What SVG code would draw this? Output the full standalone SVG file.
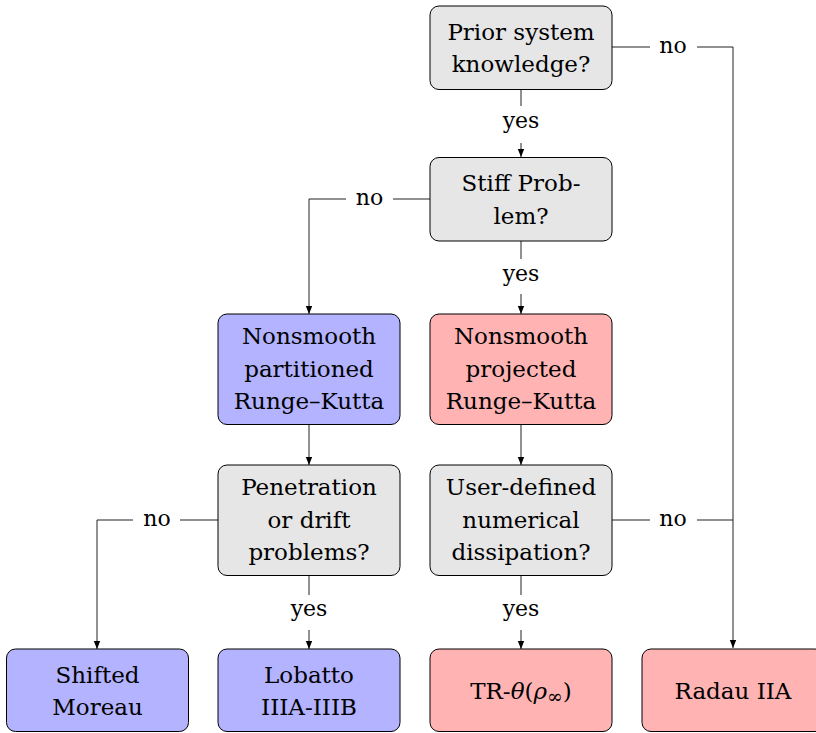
<svg xmlns="http://www.w3.org/2000/svg" width="816" height="733" viewBox="0 0 816 733">
<style>
text{font-family:"DejaVu Serif","Liberation Serif",serif;fill:#000;text-anchor:middle}
.n{font-size:23px}
.l{font-size:22px}
.box{stroke:#000;stroke-width:1}
.g{fill:#e6e6e6}.b{fill:#b3b3ff}.r{fill:#ffb3b3}
.c{fill:none;stroke:#222;stroke-width:1}
</style>
<defs>
<marker id="ah" viewBox="0 0 10 10" refX="10" refY="5" markerWidth="8" markerHeight="8" markerUnits="userSpaceOnUse" orient="auto">
<path d="M0,1 L10,5 L0,9 Z" fill="#000"/>
</marker>
</defs>
<rect width="816" height="733" fill="#fff"/>
<g id="connectors">
<path class="c" d="M521,90 V106"/><path class="c" d="M521,143 V157" marker-end="url(#ah)"/>
<text class="l" x="521" y="128">yes</text>
<path class="c" d="M612,47 H650"/><path class="c" d="M697,47 H733 V648" marker-end="url(#ah)"/>
<text class="l" x="673" y="53">no</text>
<path class="c" d="M430,199 H393"/><path class="c" d="M346,199 H309 V314" marker-end="url(#ah)"/>
<text class="l" x="369.5" y="205">no</text>
<path class="c" d="M521,241 V259"/><path class="c" d="M521,294 V314" marker-end="url(#ah)"/>
<text class="l" x="521" y="281">yes</text>
<path class="c" d="M309,425 V465" marker-end="url(#ah)"/>
<path class="c" d="M521,425 V465" marker-end="url(#ah)"/>
<path class="c" d="M218,520 H180"/><path class="c" d="M133,520 H97 V649" marker-end="url(#ah)"/>
<text class="l" x="157" y="526">no</text>
<path class="c" d="M309,576 V595"/><path class="c" d="M309,630 V649" marker-end="url(#ah)"/>
<text class="l" x="309" y="616">yes</text>
<path class="c" d="M521,576 V595"/><path class="c" d="M521,630 V649" marker-end="url(#ah)"/>
<text class="l" x="521" y="616">yes</text>
<path class="c" d="M612,520 H650"/><path class="c" d="M697,520 H733"/>
<text class="l" x="673" y="526">no</text>
</g>
<g id="prior">
<rect class="box g" x="430" y="6" width="182" height="83.5" rx="9"/>
<text class="n" x="521" y="39.5">Prior system</text>
<text class="n" x="521" y="72">knowledge?</text>
</g>
<g id="stiff">
<rect class="box g" x="430" y="157.5" width="182" height="83.5" rx="9"/>
<text class="n" x="521" y="191">Stiff Prob-</text>
<text class="n" x="521" y="223.5">lem?</text>
</g>
<g id="nsprk">
<rect class="box b" x="218" y="314" width="182" height="110.5" rx="9"/>
<text class="n" x="309" y="344">Nonsmooth</text>
<text class="n" x="309" y="376.5">partitioned</text>
<text class="n" x="309" y="409">Runge–Kutta</text>
</g>
<g id="nsprojrk">
<rect class="box r" x="430" y="314" width="182" height="110.5" rx="9"/>
<text class="n" x="521" y="344">Nonsmooth</text>
<text class="n" x="521" y="376.5">projected</text>
<text class="n" x="521" y="409">Runge–Kutta</text>
</g>
<g id="penetration">
<rect class="box g" x="218" y="465" width="182" height="110.5" rx="9"/>
<text class="n" x="309" y="495">Penetration</text>
<text class="n" x="309" y="527.5">or drift</text>
<text class="n" x="309" y="560">problems?</text>
</g>
<g id="userdef">
<rect class="box g" x="430" y="465" width="182" height="110.5" rx="9"/>
<text class="n" x="521" y="495">User-defined</text>
<text class="n" x="521" y="527.5">numerical</text>
<text class="n" x="521" y="560">dissipation?</text>
</g>
<g id="shifted">
<rect class="box b" x="6.5" y="649" width="182" height="82.5" rx="9"/>
<text class="n" x="97.5" y="682.5">Shifted</text>
<text class="n" x="97.5" y="715">Moreau</text>
</g>
<g id="lobatto">
<rect class="box b" x="218" y="649" width="182" height="82.5" rx="9"/>
<text class="n" x="309" y="682.5">Lobatto</text>
<text class="n" x="309" y="715">IIIA-IIIB</text>
</g>
<g id="trtheta">
<rect class="box r" x="430" y="649" width="182" height="82.5" rx="9"/>
<text class="n" x="521" y="699">TR-<tspan font-style="italic">θ</tspan>(<tspan font-style="italic">ρ</tspan><tspan font-size="19" dy="4">∞</tspan><tspan dy="-4">)</tspan></text>
</g>
<g id="radau">
<rect class="box r" x="642" y="649" width="182" height="82.5" rx="9"/>
<text class="n" x="733" y="699">Radau IIA</text>
</g>
</svg>
